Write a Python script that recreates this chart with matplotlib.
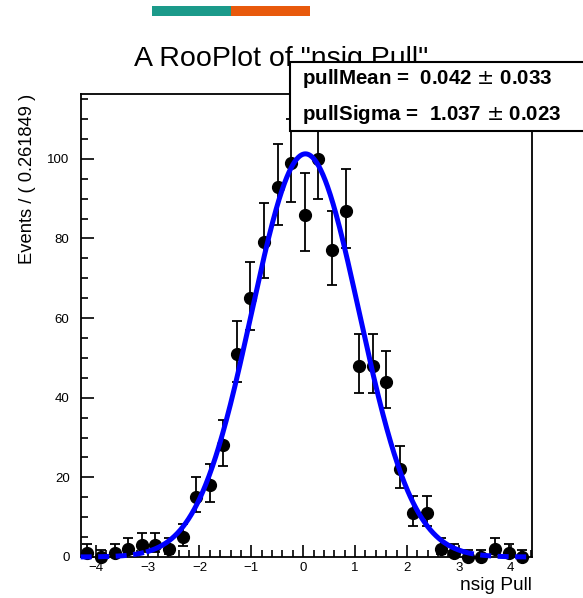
import numpy as np
import matplotlib
matplotlib.use('Agg')
import matplotlib.pyplot as plt
from matplotlib.patches import Rectangle
from matplotlib.ticker import MultipleLocator

plt.rcParams['font.family'] = ['Liberation Sans', 'DejaVu Sans']

# binned pulls
bin_width = 0.261849
bin_centers = [-4.159, -3.897, -3.635, -3.373, -3.112, -2.850, -2.588, -2.326,
               -2.064, -1.803, -1.541, -1.279, -1.017, -0.755, -0.493, -0.232,
               0.030, 0.292, 0.554, 0.816, 1.078, 1.340, 1.601, 1.863,
               2.125, 2.387, 2.649, 2.911, 3.172, 3.434, 3.696, 3.958, 4.220]
counts = [1, 0, 1, 2, 3, 3, 2, 5, 15, 18, 28, 51, 65, 79, 93, 99,
          86, 100, 77, 87, 48, 48, 44, 22, 11, 11, 2, 1, 0, 0, 2, 1, 0]

# fit result shown in the box
pull_mean, pull_mean_err = 0.042, 0.033
pull_sigma, pull_sigma_err = 1.037, 0.023

x = np.array(bin_centers)
n = np.array(counts, dtype=float)

# poisson errors (Gehrels approximation), like RooFit draws them
up = n + np.sqrt(n + 0.75) + 1.0
lo = np.where(n > 0, n * (1 - 1/(9*np.maximum(n, 1)) - 1/(3*np.sqrt(np.maximum(n, 1))))**3, 0)
yerr = np.vstack((n - lo, up - n))

fig = plt.figure(figsize=(5.83, 5.98), dpi=100)
ax = fig.add_axes([0.1384, 0.0686, 0.7741, 0.7744])

# fitted gaussian
xx = np.linspace(-4.29, 4.41, 800)
norm = n.sum() * bin_width / (pull_sigma * np.sqrt(2*np.pi))
yy = norm * np.exp(-0.5*((xx - pull_mean)/pull_sigma)**2)
core = yy > 1.4
left = xx < pull_mean
ax.plot(xx[core], yy[core], color='#0000ff', lw=3.6, zorder=3)
for part in (~core & left, ~core & ~left):
    ax.plot(xx[part], yy[part], color='#0000ff', lw=3.6, ls=(0, (2.2, 1.3)),
            zorder=3, clip_on=False)

ax.errorbar(x, n, yerr=yerr, fmt='o', color='black', ms=8.5, elinewidth=1.3,
            capsize=3.5, capthick=1.3, zorder=2, clip_on=False)

ax.set_xlim(-4.29, 4.41)
ax.set_ylim(0, 116.3)
ax.xaxis.set_major_locator(MultipleLocator(1))
ax.xaxis.set_minor_locator(MultipleLocator(0.2))
ax.yaxis.set_major_locator(MultipleLocator(20))
ax.yaxis.set_minor_locator(MultipleLocator(5))
ax.tick_params(which='both', direction='in', top=False, right=False, width=1.2, labelsize=9.5)
ax.tick_params(which='major', length=9)
ax.tick_params(which='minor', length=5)
ax.tick_params(axis='y', pad=8)
for s in ax.spines.values():
    s.set_linewidth(1.3)

ax.set_xlabel('nsig Pull', fontsize=13.8, loc='right', labelpad=2)
ax.set_ylabel('Events / ( 0.261849 )', fontsize=13.2, loc='top', labelpad=8)

# title sits behind the stats box
fig.text(0.482, 0.889, 'A RooPlot of "nsig Pull"', fontsize=20.5, ha='center',
         va='baseline', zorder=0.5)

# stats box
box = Rectangle((290/583, 1 - 131/598), 0.6, 69/598, transform=fig.transFigure,
                facecolor='white', edgecolor='black', lw=1.5, zorder=2)
fig.patches.append(box)
fig.text(302/583, 1 - 79/598, 'pullMean =  %.3f $\\pm$ %.3f' % (pull_mean, pull_mean_err),
         fontsize=14.8, fontweight='bold', va='center', zorder=3)
fig.text(302/583, 1 - 114/598, 'pullSigma =  %.3f $\\pm$ %.3f' % (pull_sigma, pull_sigma_err),
         fontsize=14.8, fontweight='bold', va='center', zorder=3)

# colour strip at the top
fig.patches.append(Rectangle((152/583, 1 - 16/598), 79/583, 10/598, transform=fig.transFigure,
                             facecolor='#1b9a8a', edgecolor='none'))
fig.patches.append(Rectangle((231/583, 1 - 16/598), 79/583, 10/598, transform=fig.transFigure,
                             facecolor='#e8590c', edgecolor='none'))

fig.savefig('out.png', dpi=100)
